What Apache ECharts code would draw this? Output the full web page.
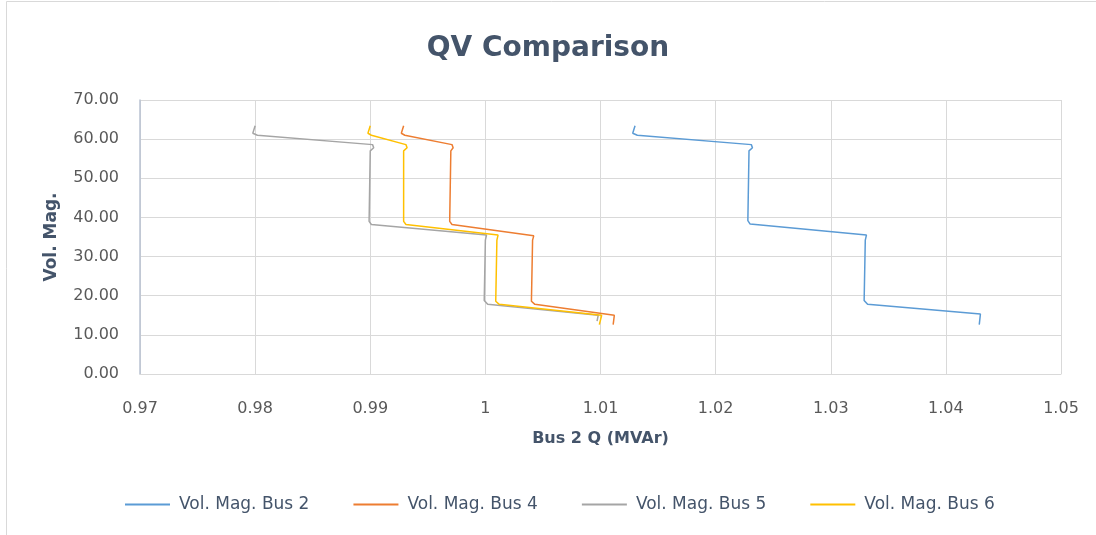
<!DOCTYPE html>
<html>
<head>
<meta charset="utf-8">
<script src="https://cdn.jsdelivr.net/npm/echarts@6/dist/echarts.min.js"></script>
<style>
  html, body { margin: 0; padding: 0; background: #fff; }
  #qvChart { width: 1096px; height: 535px; }
</style>
</head>
<body>
<div id="qvChart"></div>
<script>
// 数据：每条曲线 [Q, 电压幅值]
var seriesNames = ['Vol. Mag. Bus 2', 'Vol. Mag. Bus 4', 'Vol. Mag. Bus 5', 'Vol. Mag. Bus 6'];
var seriesColors = ['#5B9BD5', '#ED7D31', '#A5A5A5', '#FFC000'];

var bus2Pts = [
  [1.0130, 63.4], [1.0128, 61.5], [1.0132, 61.0], [1.0231, 58.6], [1.0232, 57.8], [1.0229, 57.0],
  [1.0228, 39.2], [1.0230, 38.3], [1.0331, 35.5], [1.0330, 34.2], [1.0329, 18.8], [1.0332, 17.8],
  [1.0430, 15.3], [1.0429, 12.6]
];
var bus4Pts = [
  [0.9929, 63.4], [0.9927, 61.5], [0.9930, 61.0], [0.9971, 58.6], [0.9972, 57.8], [0.9970, 57.0],
  [0.9969, 39.0], [0.9971, 38.2], [1.0042, 35.3], [1.0041, 34.2], [1.0040, 18.6], [1.0043, 17.8],
  [1.0112, 15.0], [1.0111, 12.6]
];
var bus5Pts = [
  [0.9800, 63.4], [0.9798, 61.5], [0.9802, 61.0], [0.9902, 58.6], [0.9903, 57.8], [0.9900, 57.0],
  [0.9899, 39.0], [0.9901, 38.2], [1.0001, 35.5], [1.0000, 34.2], [0.9999, 18.8], [1.0002, 17.8],
  [1.0098, 15.0], [1.0097, 13.5]
];
var bus6Pts = [
  [0.9900, 63.4], [0.9898, 61.5], [0.9901, 61.0], [0.9931, 58.6], [0.9932, 57.8], [0.9929, 57.0],
  [0.9929, 39.0], [0.9931, 38.2], [1.0011, 35.5], [1.0010, 34.2], [1.0009, 18.6], [1.0012, 17.8],
  [1.0101, 15.0], [1.0099, 12.6]
];
var allPts = [bus2Pts, bus4Pts, bus5Pts, bus6Pts];

var qvChart = echarts.init(document.getElementById('qvChart'));
var font = 'DejaVu Sans';
var textColor = '#44546A';

var series = [];
for (var i = 0; i < allPts.length; i++) {
  series.push({
    name: seriesNames[i],
    type: 'line',
    data: allPts[i],
    showSymbol: false,
    symbol: 'none',
    smooth: false,
    lineStyle: { width: 1.5, color: seriesColors[i] },
    itemStyle: { color: seriesColors[i] },
    animation: false
  });
}

var option = {
  backgroundColor: '#fff',
  title: {
    text: 'QV Comparison',
    left: 'center',
    top: 30,
    textStyle: { fontFamily: font, fontSize: 28, fontWeight: 'bold', color: textColor }
  },
  graphic: [{
    type: 'rect',
    shape: { x: 6.5, y: 1.5, width: 1200, height: 600 },
    style: { fill: 'none', stroke: '#D9D9D9', lineWidth: 1 },
    silent: true
  }],
  grid: { left: 140, right: 35, top: 100, bottom: 161 },
  legend: {
    left: 120,
    top: 491,
    itemGap: 44,
    itemWidth: 45,
    itemHeight: 2,
    icon: 'rect',
    textStyle: { fontFamily: font, fontSize: 17, color: textColor, padding: [0, 0, 0, 4] },
    data: seriesNames
  },
  xAxis: {
    type: 'value',
    min: 0.97,
    max: 1.05,
    interval: 0.01,
    name: 'Bus 2 Q (MVAr)',
    nameLocation: 'middle',
    nameGap: 57,
    nameTextStyle: { fontFamily: font, fontSize: 16, fontWeight: 'bold', color: textColor },
    axisLine: { show: true, lineStyle: { color: '#D9D9D9' } },
    axisTick: { show: false },
    axisLabel: {
      margin: 27,
      fontFamily: font, fontSize: 16, color: '#595959',
      formatter: function (v) { return String(+v.toFixed(2)); }
    },
    splitLine: { show: true, lineStyle: { color: '#D9D9D9' } }
  },
  yAxis: {
    type: 'value',
    min: 0,
    max: 70,
    interval: 10,
    name: 'Vol. Mag.',
    nameLocation: 'middle',
    nameGap: 80,
    nameTextStyle: { fontFamily: font, fontSize: 17, fontWeight: 'bold', color: textColor },
    axisLine: { show: true, lineStyle: { color: '#B8C2D2', width: 1.5 } },
    axisTick: { show: false },
    axisLabel: {
      margin: 21,
      fontFamily: font, fontSize: 16, color: '#595959',
      formatter: function (v) { return v.toFixed(2); }
    },
    splitLine: { show: true, lineStyle: { color: '#D9D9D9' } }
  },
  series: series
};

qvChart.setOption(option);
</script>
</body>
</html>
